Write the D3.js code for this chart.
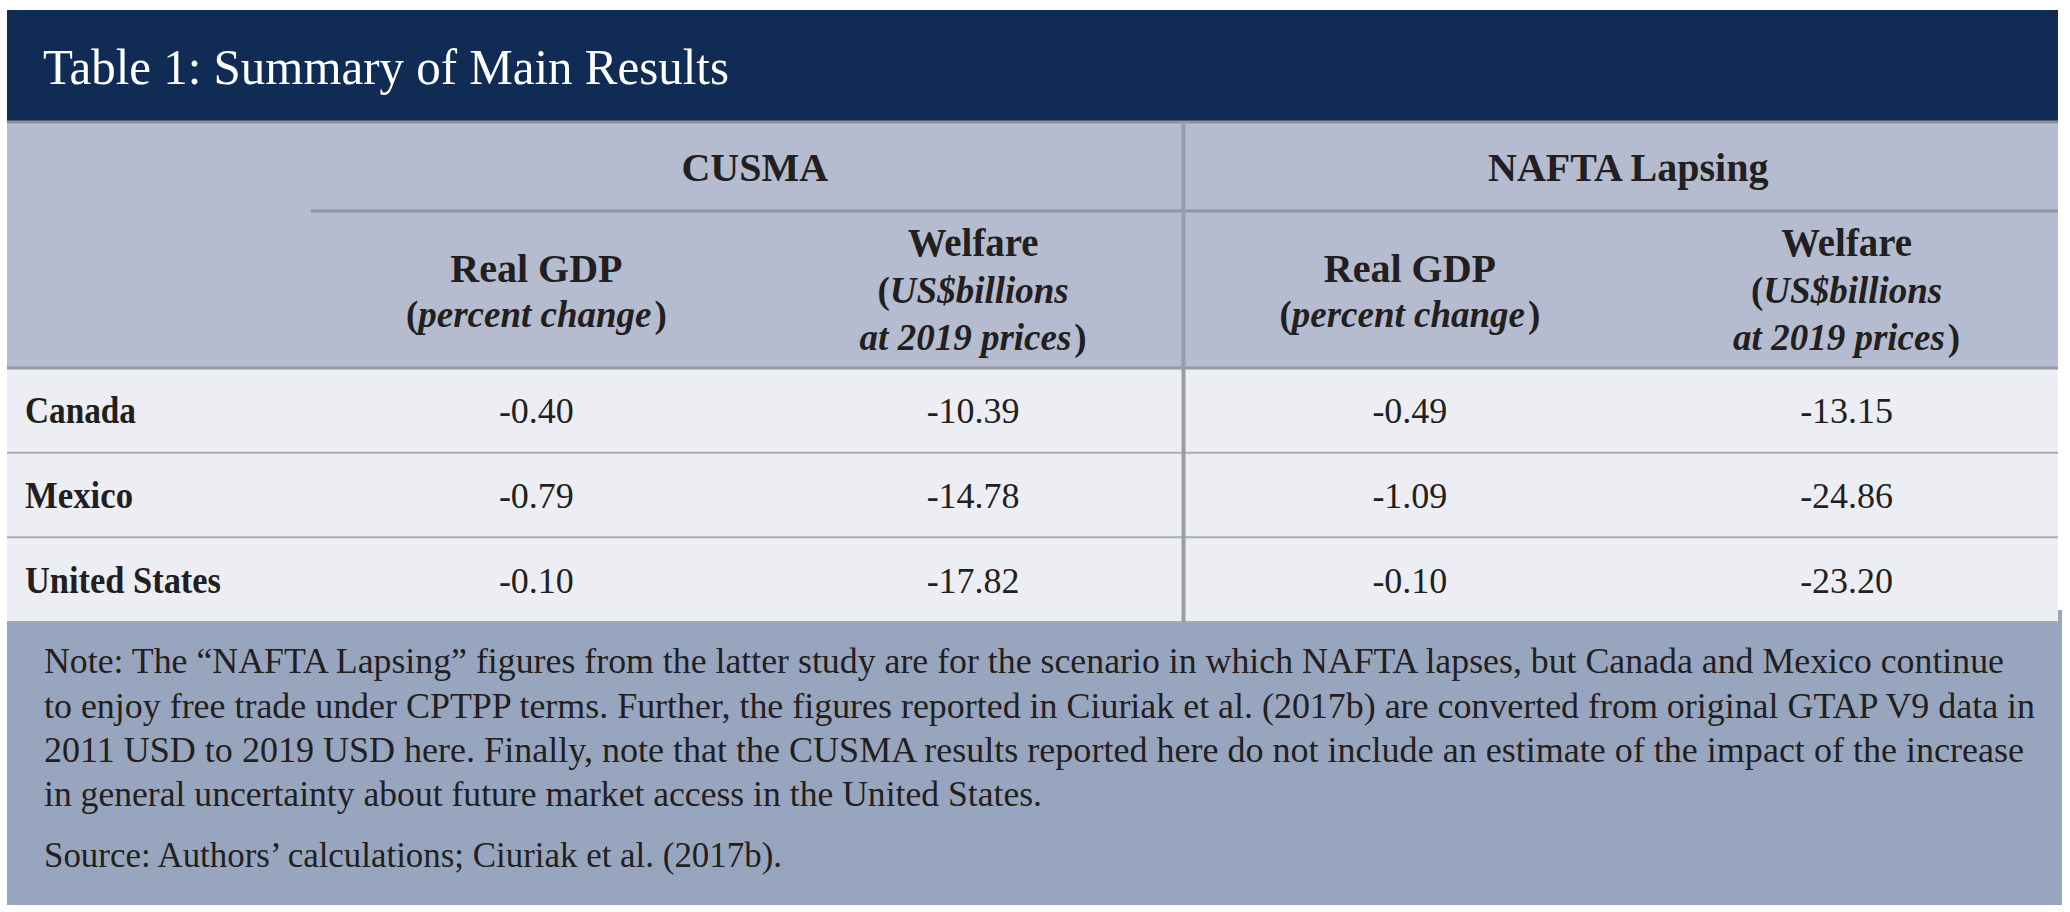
<!DOCTYPE html>
<html lang="en">
<head>
<meta charset="UTF-8">
<title>Table 1: Summary of Main Results</title>
<script src="https://d3js.org/d3.v7.min.js"></script>
<style>
  html, body { margin: 0; padding: 0; background: #fff; }
  svg { display: block; }
  text { font-family: "Liberation Serif", "DejaVu Serif", serif; fill: #231f20; }
</style>
</head>
<body>
<svg width="2070" height="912"></svg>
<script>
const countries = ["Canada", "Mexico", "United States"];
const scenarios = ["CUSMA", "NAFTA Lapsing"];
const cusmaGdp = [-0.40, -0.79, -0.10];
const cusmaWelfare = [-10.39, -14.78, -17.82];
const naftaGdp = [-0.49, -1.09, -0.10];
const naftaWelfare = [-13.15, -24.86, -23.20];
const noteLines = [
  "Note: The \u201CNAFTA Lapsing\u201D figures from the latter study are for the scenario in which NAFTA lapses, but Canada and Mexico continue",
  "to enjoy free trade under CPTPP terms. Further, the figures reported in Ciuriak et al. (2017b) are converted from original GTAP V9 data in",
  "2011 USD to 2019 USD here. Finally, note that the CUSMA results reported here do not include an estimate of the impact of the increase",
  "in general uncertainty about future market access in the United States."
];
const sourceLine = "Source: Authors\u2019 calculations; Ciuriak et al. (2017b).";

const columns = [
  { key: "cg", values: cusmaGdp, head: "gdp" },
  { key: "cw", values: cusmaWelfare, head: "welfare" },
  { key: "ng", values: naftaGdp, head: "gdp" },
  { key: "nw", values: naftaWelfare, head: "welfare" }
];

const svg = d3.select("svg");
const left = 7, right = 2058;
const fmt = d3.formatLocale({ decimal: ".", thousands: ",", grouping: [3], currency: ["$", ""], minus: "-" }).format(".2f");

// set a text to a given width (Garamond in the original is narrower)
function fit(sel, w, always) {
  const n = sel.node().getComputedTextLength();
  if (always || n > w) sel.attr("textLength", w).attr("lengthAdjust", "spacingAndGlyphs");
  return sel;
}

const x = d3.scaleBand().domain(columns.map(d => d.key)).range([318, 2065]);
const y = d3.scaleBand().domain(countries).range([368, 622]);
const cx = k => x(k) + x.bandwidth() / 2;

// backgrounds
svg.append("rect").attr("x", left).attr("y", 610).attr("width", 2062 - left).attr("height", 905 - 610).attr("fill", "#98a5be");
svg.append("rect").attr("x", left).attr("y", 10).attr("width", right - left).attr("height", 112).attr("fill", "#102c55");
svg.append("rect").attr("x", left).attr("y", 122).attr("width", right - left).attr("height", 246).attr("fill", "#b5bccf");
svg.append("rect").attr("x", left).attr("y", 368).attr("width", right - left).attr("height", 254).attr("fill", "#eceef3");

// title
fit(svg.append("text").attr("x", 43).attr("y", 84)
  .style("fill", "#fff").style("font-size", "50px")
  .text("Table 1: Summary of Main Results"), 686);

// rules
const rule = (x1, y1, x2, y2, c, w) => svg.append("line")
  .attr("x1", x1).attr("y1", y1).attr("x2", x2).attr("y2", y2)
  .attr("stroke", c).attr("stroke-width", w);
rule(left, 122, right, 122, "#8d929b", 3);
rule(311, 211, right, 211, "#92979f", 3);
rule(left, 368, right, 368, "#969ba3", 3);
countries.slice(1).forEach(c => rule(left, y(c), right, y(c), "#aaadb2", 2));
rule(left, 622, right, 622, "#a6a9ae", 2);
rule(1183.5, 122, 1183.5, 622, "#9a9da4", 4);

// group headers
[["cg", "cw"], ["ng", "nw"]].forEach((pair, i) => {
  svg.append("text")
    .attr("x", (cx(pair[0]) + cx(pair[1])) / 2).attr("y", 181)
    .attr("text-anchor", "middle")
    .style("font-size", "40px").style("font-weight", "bold")
    .text(scenarios[i]);
});

// column headers
columns.forEach(col => {
  const g = svg.append("g").style("font-weight", "bold").attr("text-anchor", "middle");
  if (col.head === "gdp") {
    g.append("text").attr("x", cx(col.key)).attr("y", 282).style("font-size", "40px").text("Real GDP");
    const t = g.append("text").attr("x", cx(col.key)).attr("y", 327).style("font-size", "37px");
    t.append("tspan").text("(");
    t.append("tspan").style("font-style", "italic").text("percent change");
    t.append("tspan").attr("dx", 3).text(")");
  } else {
    fit(g.append("text").attr("x", cx(col.key)).attr("y", 256).style("font-size", "40px").text("Welfare"), 131);
    const t1 = g.append("text").attr("x", cx(col.key)).attr("y", 303).style("font-size", "37px");
    t1.append("tspan").text("(");
    t1.append("tspan").style("font-style", "italic").text("US$billions");
    const t2 = g.append("text").attr("x", cx(col.key)).attr("y", 350).style("font-size", "37px");
    t2.append("tspan").style("font-style", "italic").text("at 2019 prices");
    t2.append("tspan").attr("dx", 3).text(")");
  }
});

// row labels
const labelW = { "Canada": 111, "Mexico": 108, "United States": 196 };
countries.forEach(c => {
  const t = svg.append("text")
    .attr("x", 25).attr("y", y(c) + y.bandwidth() / 2 + 13)
    .style("font-size", "38px").style("font-weight", "bold")
    .text(c);
  fit(t, labelW[c]);
});

// values
columns.forEach(col => {
  svg.append("g").selectAll("text")
    .data(col.values)
    .join("text")
    .attr("x", cx(col.key))
    .attr("y", (d, i) => y(countries[i]) + y.bandwidth() / 2 + 13)
    .attr("text-anchor", "middle")
    .style("font-size", "36px")
    .text(d => fmt(d));
});

// notes
const noteW = [1960, 1991, 1980, 998];
const noteY = [673, 718, 762, 806];
noteLines.forEach((s, i) => {
  const t = svg.append("text").attr("x", 44).attr("y", noteY[i]).style("font-size", "36px").text(s);
  fit(t, noteW[i], true);
});
fit(svg.append("text").attr("x", 44).attr("y", 867).style("font-size", "36px").text(sourceLine), 738, true);
</script>
</body>
</html>
